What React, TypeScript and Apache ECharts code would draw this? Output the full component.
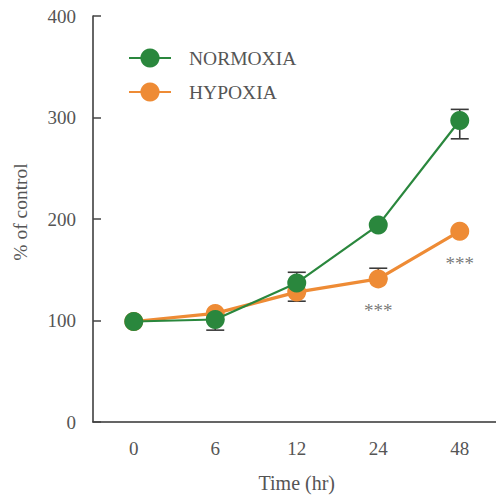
import React, { useEffect, useRef } from "react";
import * as echarts from "echarts";

const categories = ["0", "6", "12", "24", "48"];
const normoxia = [99, 101, 137, 194, 297];
const hypoxia = [99, 107, 128, 141, 188];
const normoxiaLow = [99, 90.5, 119, 194, 279];
const normoxiaHigh = [99, 101, 147.5, 194, 308];
const hypoxiaLow = [99, 107, 128, 141, 188];
const hypoxiaHigh = [99, 107, 128, 151.5, 188];
const sigLabels = ["", "", "", "***", "***"];
const sigValues = [null, null, null, 110, 156];
const yTicks = [0, 100, 200, 300, 400];

const GREEN = "#2a873d";
const ORANGE = "#ee8b35";
const FONT = "Liberation Serif, DejaVu Serif, serif";

function errorSeries(name: string, lows: number[], highs: number[]) {
  const data = lows.map((l, i) => [i, l, highs[i]]);
  return {
    type: "custom",
    name: name + "-err",
    z: 1,
    silent: true,
    renderItem: (params: any, api: any) => {
      const x = api.value(0);
      const lo = api.coord([x, api.value(1)]);
      const hi = api.coord([x, api.value(2)]);
      if (Math.abs(lo[1] - hi[1]) < 0.5) return { type: "group", children: [] };
      const half = 9;
      const style = { stroke: "#3a3a3a", lineWidth: 1.6 };
      const children: any[] = [
        { type: "line", shape: { x1: lo[0], y1: lo[1], x2: hi[0], y2: hi[1] }, style },
        { type: "line", shape: { x1: lo[0] - half, y1: lo[1], x2: lo[0] + half, y2: lo[1] }, style },
        { type: "line", shape: { x1: hi[0] - half, y1: hi[1], x2: hi[0] + half, y2: hi[1] }, style },
      ];
      return { type: "group", children };
    },
    data,
  };
}

export default function App() {
  const ref = useRef<HTMLDivElement>(null);
  useEffect(() => {
    if (!ref.current) return;
    const chart = echarts.init(ref.current, undefined, { renderer: "svg" });
    chart.setOption({
      animation: false,
      backgroundColor: "#ffffff",
      textStyle: { fontFamily: FONT },
      grid: { left: 93, top: 16, bottom: 75, right: -4.5, outerBoundsMode: "none", containLabel: false },
      legend: {
        left: 123,
        top: 43,
        padding: 5,
        orient: "vertical",
        itemWidth: 42,
        itemHeight: 24,
        itemGap: 14,
        data: ["NORMOXIA", "HYPOXIA"],
        textStyle: { fontFamily: FONT, fontSize: 19.5, color: "#555", padding: [0, 0, 0, 13] },
      },
      xAxis: {
        type: "category",
        data: categories,
        boundaryGap: true,
        name: "Time (hr)",
        nameLocation: "middle",
        nameGap: 51,
        nameTextStyle: { fontFamily: FONT, fontSize: 20, color: "#555" },
        axisLine: { lineStyle: { color: "#333", width: 1.5 } },
        axisTick: { inside: true, alignWithLabel: true, length: 8, lineStyle: { color: "#444", width: 1.5 } },
        axisLabel: { fontFamily: FONT, fontSize: 19, color: "#555", margin: 17 },
        splitLine: { show: false },
      },
      yAxis: {
        type: "value",
        min: yTicks[0],
        max: yTicks[yTicks.length - 1],
        interval: 100,
        axisLine: { show: true, lineStyle: { color: "#333", width: 1.5 } },
        axisTick: { show: true, inside: true, length: 8, lineStyle: { color: "#444", width: 1.5 } },
        axisLabel: { fontFamily: FONT, fontSize: 19, color: "#555", margin: 17 },
        splitLine: { show: false },
      },
      graphic: [
        {
          type: "text",
          x: 20,
          y: 212,
          rotation: Math.PI / 2,
          style: {
            text: "% of control",
            fontFamily: FONT,
            fontSize: 19.5,
            fill: "#555",
            align: "center",
            verticalAlign: "middle",
          },
        },
      ],
      series: [
        errorSeries("HYPOXIA", hypoxiaLow, hypoxiaHigh),
        errorSeries("NORMOXIA", normoxiaLow, normoxiaHigh),
        {
          type: "line",
          name: "HYPOXIA",
          data: hypoxia,
          z: 2,
          symbol: "circle",
          symbolSize: 19,
          lineStyle: { color: ORANGE, width: 3.2 },
          itemStyle: { color: ORANGE },
        },
        {
          type: "line",
          name: "NORMOXIA",
          data: normoxia,
          z: 3,
          symbol: "circle",
          symbolSize: 19,
          lineStyle: { color: GREEN, width: 2.2 },
          itemStyle: { color: GREEN },
        },
        {
          type: "scatter",
          name: "sig",
          symbolSize: 1,
          itemStyle: { color: "rgba(0,0,0,0)" },
          silent: true,
          data: sigValues.map((v, i) => (v === null ? null : [i, v])).filter((d) => d !== null),
          label: {
            show: true,
            position: "inside",
            formatter: (p: any) => sigLabels[p.data[0]],
            fontFamily: FONT,
            fontSize: 19,
            color: "#555",
          },
        },
      ],
    });
    return () => chart.dispose();
  }, []);
  return <div ref={ref} style={{ position: "fixed", left: 0, top: 0, width: 496, height: 497 }} />;
}
